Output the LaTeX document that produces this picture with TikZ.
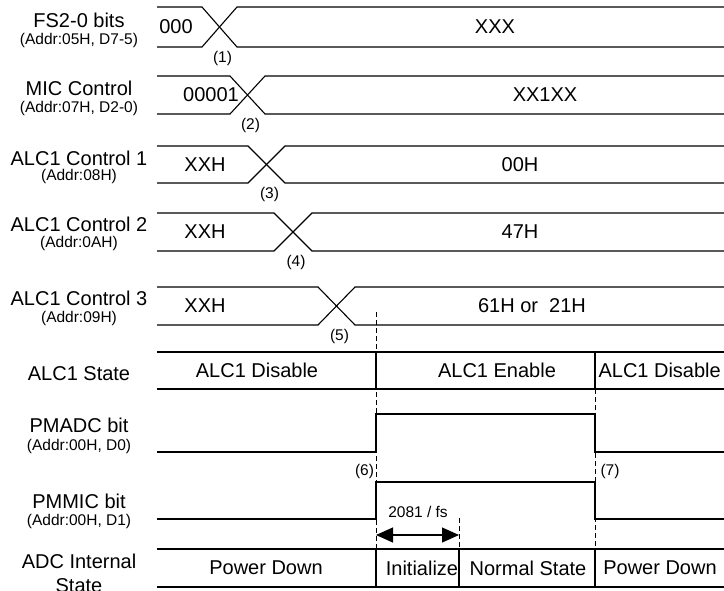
\documentclass[tikz,border=0pt]{standalone}
\usepackage{fontspec}
\setmainfont{Liberation Sans}
\usetikzlibrary{arrows.meta}

\begin{document}
\begin{tikzpicture}[x=1pt, y=-1pt, line width=1.1pt,
    txt/.style={font=\fontsize{20}{24}\selectfont},
    addr/.style={font=\fontsize{15.5}{18}\selectfont},
    guide/.style={line width=0.9pt, dash pattern=on 5pt off 3pt}]
  \useasboundingbox (0,0) rectangle (724,590);
  % Register writes (bus lines with crossings)
  \foreach \ya/\yb/\xa/\xb/\n/\xl/\vl/\xr/\vr in {
      7/47/202/237/1/176/000/495/XXX,
      76/114/230/265/2/211/00001/545/XX1XX,
      146/183/248/285/3/205/XXH/520/00H,
      213/251/274/312/4/205/XXH/520/47H,
      287/325/318/355/5/205/XXH/532/61H or~ 21H} {
    \draw (157,\ya) -- (\xa,\ya) -- (\xb,\yb) -- (724,\yb);
    \draw (157,\yb) -- (\xa,\yb) -- (\xb,\ya) -- (724,\ya);
    \node[txt] (old\n) at (\xl,{(\ya+\yb)/2}) {\vl};
    \node[txt] (new\n) at (\xr,{(\ya+\yb)/2}) {\vr};
    \node[addr] (cross\n) at ({(\xa+\xb)/2+3},{\yb+11}) {(\n)};
  }
  % Signal names
  \foreach \y/\lbl [count=\i] in {27/FS2-0 bits, 95/MIC Control, 165/ALC1 Control 1,
      231/ALC1 Control 2, 305/ALC1 Control 3, 380/ALC1 State, 432/PMADC bit,
      508/PMMIC bit, 568/ADC Internal, 592/State}
    \node[txt, anchor=base] (sig\i) at (79,\y) {\lbl};
  \foreach \y/\lbl [count=\i] in {44/{(Addr:05H, D7-5)}, 112/{(Addr:07H, D2-0)},
      180/{(Addr:08H)}, 247/{(Addr:0AH)}, 322/{(Addr:09H)},
      450/{(Addr:00H, D0)}, 525/{(Addr:00H, D1)}}
    \node[addr, anchor=base] (sub\i) at (79,\y) {\lbl};
  % Timing guides
  \draw[guide] (376,312) -- (376,549);
  \draw[guide] (595,389) -- (595,549);
  \draw[guide] (459,518) -- (459,549);
  % ALC1 state
  \draw (157,352) -- (724,352) (157,389) -- (724,389);
  \draw (376,352) -- (376,389) (595,352) -- (595,389);
  \node[txt] (alcoff) at (257,370.5) {ALC1 Disable};
  \node[txt] (alcon) at (497,370.5) {ALC1 Enable};
  \node[txt, anchor=west, inner sep=0pt] (alcoff2) at (598,370.5) {ALC1 Disable};
  % PMADC and PMMIC bits
  \draw (157,452) -- (376,452) -- (376,414) -- (595,414) -- (595,452) -- (724,452);
  \draw (157,519) -- (376,519) -- (376,482) -- (595,482) -- (595,519) -- (724,519);
  \node[addr] (on) at (364.5,471) {(6)};
  \node[addr] (off) at (610,471) {(7)};
  % Initialize time
  \coordinate (t0) at (376,535);
  \coordinate (t1) at (459,535);
  \draw[{Triangle[length=17pt,width=15pt]}-{Triangle[length=17pt,width=15pt]}] (t0) -- (t1);
  \node[addr, anchor=base] (tinit) at (418,517) {2081 / fs};
  % ADC internal state
  \draw (157,549) -- (724,549) (157,587) -- (724,587);
  \draw (376,549) -- (376,587) (459,549) -- (459,587) (595,549) -- (595,587);
  \node[txt] (pd1) at (266,568) {Power Down};
  \node[txt] (init) at (422,568) {Initialize};
  \node[txt] (norm) at (528,568) {Normal State};
  \node[txt] (pd2) at (660,568) {Power Down};
\end{tikzpicture}
\end{document}
